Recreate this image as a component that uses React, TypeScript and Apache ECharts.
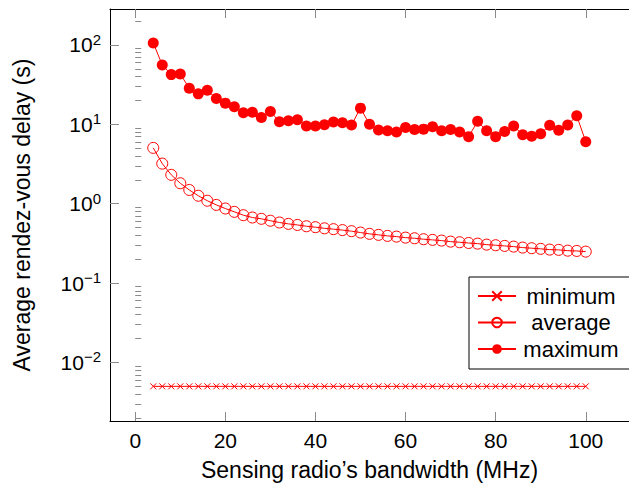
import React, { useEffect, useRef } from "react";
import * as echarts from "echarts";

const bandwidth: number[] = [
  4, 6, 8, 10, 12, 14, 16, 18, 20, 22, 24, 26, 28, 30, 32, 34, 36, 38, 40, 42,
  44, 46, 48, 50, 52, 54, 56, 58, 60, 62, 64, 66, 68, 70, 72, 74, 76, 78, 80,
  82, 84, 86, 88, 90, 92, 94, 96, 98, 100,
];

const minimumDelay: number[] = bandwidth.map(() => 0.005);

const averageDelay: number[] = [
  5.05, 3.2, 2.31, 1.81, 1.49, 1.26, 1.09, 0.966, 0.87, 0.79, 0.717, 0.67,
  0.645, 0.61, 0.58, 0.557, 0.54, 0.52, 0.506, 0.49, 0.478, 0.465, 0.451,
  0.433, 0.417, 0.405, 0.393, 0.385, 0.374, 0.367, 0.357, 0.35, 0.343, 0.333,
  0.327, 0.32, 0.314, 0.305, 0.3, 0.294, 0.288, 0.28, 0.275, 0.27, 0.264,
  0.262, 0.256, 0.254, 0.249,
];

const maximumDelay: number[] = [
  106, 56, 42.3, 43, 28.5, 24.2, 26.9, 21.1, 18.5, 16.6, 14.0, 14.2, 12.2,
  14.5, 10.8, 11.1, 11.4, 9.55, 9.55, 9.9, 10.7, 10.5, 9.8, 16.0, 10.0, 8.5,
  8.3, 8.0, 9.1, 8.6, 8.7, 9.3, 8.3, 8.6, 8.0, 7.0, 10.9, 8.3, 7.0, 8.1, 9.55,
  7.4, 7.1, 7.6, 9.75, 8.4, 9.8, 12.8, 6.05,
];

const xTicks: number[] = [0, 20, 40, 60, 80, 100];
const yMajorTicks: number[] = [0.01, 0.1, 1, 10, 100];
const yMinorTicks: number[] = [
  0.002, 0.003, 0.004, 0.005, 0.006, 0.007, 0.008, 0.009,
  0.02, 0.03, 0.04, 0.05, 0.06, 0.07, 0.08, 0.09,
  0.2, 0.3, 0.4, 0.5, 0.6, 0.7, 0.8, 0.9,
  2, 3, 4, 5, 6, 7, 8, 9,
  20, 30, 40, 50, 60, 70, 80, 90,
  200,
];

const seriesNames = ["minimum", "average", "maximum"];

const X_MIN = -5.6;
const X_MAX = 109.6;
const Y_MIN = 0.00183;
const Y_MAX = 283.8;

const FONT = "Liberation Sans";
const RED = "#ff0000";
const TICK_GRAY = "#8a8a8a";

export default function App() {
  const ref = useRef<HTMLDivElement>(null);

  useEffect(() => {
    if (!ref.current) return;
    const chart = echarts.init(ref.current, undefined, { renderer: "svg" });

    const pairs = (ys: number[]) => bandwidth.map((x, i) => [x, ys[i]]);

    const supText = (v: number) => {
      const e = Math.round(Math.log10(v));
      return e < 0 ? "\u2212" + Math.abs(e) : String(e);
    };

    chart.setOption({
      animation: false,
      textStyle: { fontFamily: FONT },
      grid: { left: 110, top: 9, right: -4, bottom: 66, containLabel: false },
      legend: {
        left: 469,
        top: 277,
        orient: "vertical",
        data: seriesNames,
        itemWidth: 38,
        itemHeight: 12,
        itemGap: 4.5,
        padding: [8, 20, 9, 8],
        borderColor: "#000",
        borderWidth: 1,
        backgroundColor: "#fff",
        selectedMode: false,
        formatter: (name: string) => `{c|${name}}`,
        textStyle: {
          rich: {
            c: {
              width: 100,
              align: "center",
              fontSize: 22,
              lineHeight: 22,
              fontFamily: FONT,
              color: "#000",
            },
          },
        },
      },
      xAxis: [
        {
          type: "value",
          position: "bottom",
          min: X_MIN,
          max: X_MAX,
          name: "Sensing radio\u2019s bandwidth (MHz)",
          nameLocation: "middle",
          nameGap: 37,
          nameTextStyle: { fontSize: 23, color: "#000", fontFamily: FONT },
          axisLine: { show: true, onZero: false, lineStyle: { color: "#000", width: 1 } },
          axisTick: {
            show: true,
            inside: true,
            length: 9,
            customValues: xTicks,
            lineStyle: { color: TICK_GRAY, width: 1 },
          },
          axisLabel: {
            show: true,
            customValues: xTicks,
            margin: 9,
            fontSize: 21,
            color: "#000",
            fontFamily: FONT,
          },
          splitLine: { show: false },
        },
        {
          type: "value",
          position: "top",
          min: X_MIN,
          max: X_MAX,
          axisLine: { show: true, onZero: false, lineStyle: { color: "#000", width: 1 } },
          axisTick: {
            show: true,
            inside: true,
            length: 9,
            customValues: xTicks,
            lineStyle: { color: TICK_GRAY, width: 1 },
          },
          axisLabel: { show: false },
          splitLine: { show: false },
        },
      ],
      yAxis: [
        {
          type: "log",
          logBase: 10,
          position: "left",
          min: Y_MIN,
          max: Y_MAX,
          name: "Average rendez-vous delay (s)",
          nameLocation: "middle",
          nameGap: 77,
          nameRotate: 90,
          nameTextStyle: { fontSize: 23, color: "#000", fontFamily: FONT },
          axisLine: { show: true, onZero: false, lineStyle: { color: "#000", width: 1 } },
          axisTick: {
            show: true,
            inside: true,
            length: 9,
            customValues: yMajorTicks,
            lineStyle: { color: TICK_GRAY, width: 1 },
          },
          axisLabel: {
            show: true,
            customValues: yMajorTicks,
            margin: 9,
            formatter: (v: number) => `{b|10}{s|${supText(v)}}`,
            rich: {
              b: { fontSize: 21, lineHeight: 26, color: "#000", fontFamily: FONT },
              s: {
                fontSize: 15,
                lineHeight: 16,
                verticalAlign: "top",
                color: "#000",
                fontFamily: FONT,
              },
            },
          },
          splitLine: { show: false },
        },
        {
          type: "log",
          logBase: 10,
          position: "left",
          min: Y_MIN,
          max: Y_MAX,
          axisLine: { show: false },
          axisTick: {
            show: true,
            inside: true,
            length: 6,
            customValues: yMinorTicks,
            lineStyle: { color: TICK_GRAY, width: 1 },
          },
          axisLabel: { show: false },
          splitLine: { show: false },
        },
      ],
      series: [
        {
          name: "minimum",
          type: "line",
          data: pairs(minimumDelay),
          symbol: "path://M0,0L10,10M10,0L0,10",
          symbolSize: 6,
          lineStyle: { color: RED, width: 1 },
          itemStyle: { color: RED, borderColor: RED, borderWidth: 1 },
          z: 3,
        },
        {
          name: "average",
          type: "line",
          data: pairs(averageDelay),
          symbol: "circle",
          symbolSize: 11,
          showAllSymbol: true,
          lineStyle: { color: RED, width: 1 },
          itemStyle: { color: "rgba(255,255,255,0)", borderColor: RED, borderWidth: 1 },
          z: 3,
        },
        {
          name: "maximum",
          type: "line",
          data: pairs(maximumDelay),
          symbol: "circle",
          symbolSize: 11,
          showAllSymbol: true,
          lineStyle: { color: RED, width: 1 },
          itemStyle: { color: RED, borderColor: RED, borderWidth: 0 },
          z: 3,
        },
      ],
    });

    return () => chart.dispose();
  }, []);

  return (
    <div
      ref={ref}
      style={{ position: "absolute", left: 0, top: 0, width: 629, height: 487 }}
    />
  );
}
